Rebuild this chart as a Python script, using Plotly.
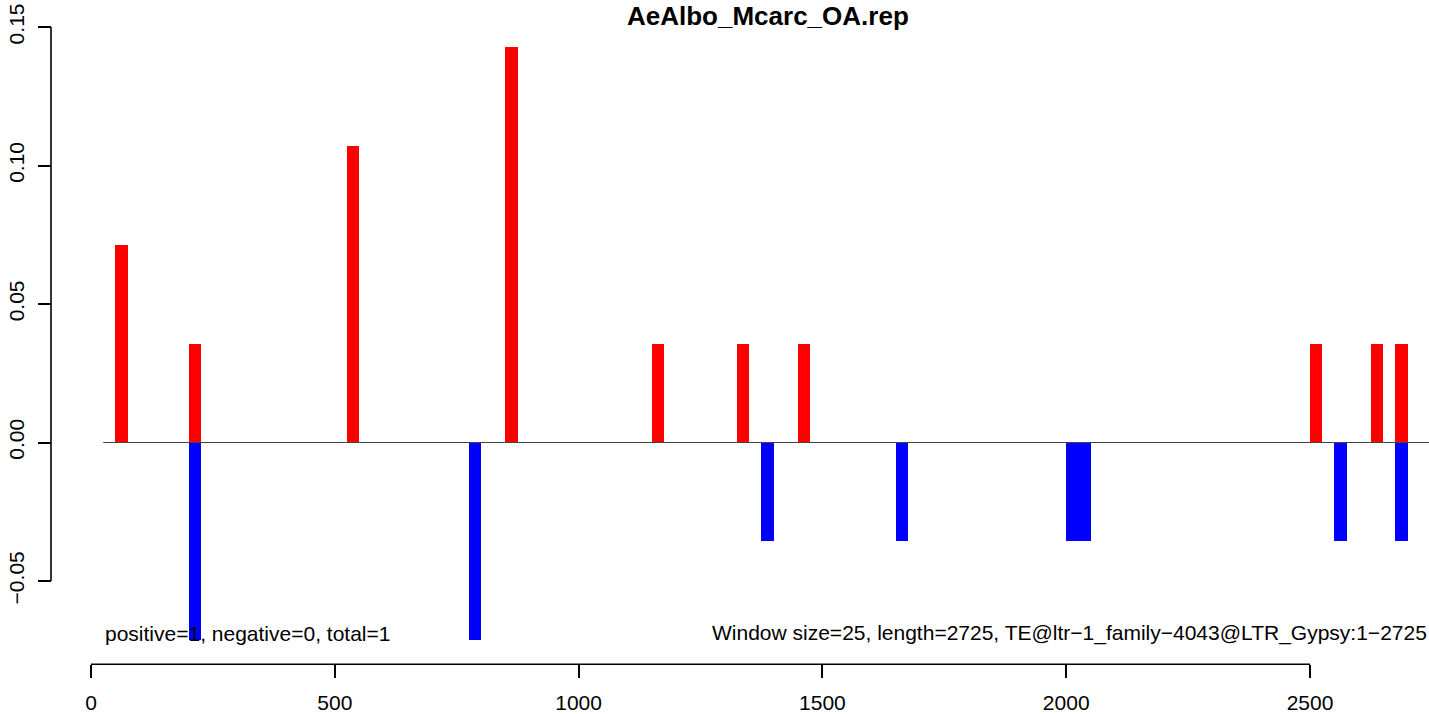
import plotly.graph_objects as go

# ---------------- data ----------------
title_text = "AeAlbo_Mcarc_OA.rep"
window = 25
pos_start = [50, 200, 525, 850, 1150, 1325, 1450, 2500, 2625, 2675]
pos_val = [0.0714, 0.0357, 0.1071, 0.1429, 0.0357, 0.0357, 0.0357, 0.0357, 0.0357, 0.0357]
neg_start = [200, 775, 1375, 1650, 2000, 2025, 2550, 2675]
neg_val = [-0.0714, -0.0714, -0.0357, -0.0357, -0.0357, -0.0357, -0.0357, -0.0357]
x_ticks = [0, 500, 1000, 1500, 2000, 2500]
x_ticktext = ["0", "500", "1000", "1500", "2000", "2500"]
y_ticks = [-0.05, 0.00, 0.05, 0.10, 0.15]
y_ticktext = ["\u22120.05", "0.00", "0.05", "0.10", "0.15"]
left_note = "positive=1, negative=0, total=1"
right_note = "Window size=25, length=2725, TE@ltr\u22121_family\u22124043@LTR_Gypsy:1\u22122725"
zero_line_start = 25

# ---------------- layout geometry ----------------
W, H = 1429, 714
x0_px, x_scale = 91.0, 0.4876      # pixel of x=0, px per unit
y0_px, y_scale = 445.0, 2785.0     # pixel of y=0, px per unit
xr = [-x0_px / x_scale, (W - x0_px) / x_scale]
yr = [-(H - y0_px) / y_scale, y0_px / y_scale]
xaxis_pos = 1 - 668 / H
yaxis_pos = 51 / W

FONT = "Liberation Sans, Arial, Helvetica, sans-serif"
FS = 21

fig = go.Figure()
fig.add_trace(go.Bar(
    x=[s + window / 2 for s in pos_start], y=pos_val, width=window,
    marker=dict(color="#FF0000", line=dict(width=0)), showlegend=False,
    hoverinfo="x+y"))
fig.add_trace(go.Bar(
    x=[s + window / 2 for s in neg_start], y=neg_val, width=window,
    marker=dict(color="#0000FF", line=dict(width=0)), showlegend=False,
    hoverinfo="x+y"))

fig.update_layout(
    width=W, height=H,
    margin=dict(l=0, r=0, t=0, b=0),
    paper_bgcolor="white", plot_bgcolor="white",
    barmode="overlay", bargap=0,
    font=dict(family=FONT, size=FS, color="black"),
    xaxis=dict(range=xr, domain=[0, 1], anchor="free", position=xaxis_pos,
               showgrid=False, zeroline=False, showline=False,
               tickmode="array", tickvals=x_ticks, ticktext=x_ticktext,
               ticks="outside", ticklen=13, tickwidth=1.6, tickcolor="black",
               ticklabelstandoff=7, ticklabeloverflow="allow",
               tickfont=dict(family=FONT, size=FS, color="black"),
               fixedrange=True),
    yaxis=dict(range=yr, domain=[0, 1], anchor="free", position=yaxis_pos,
               showgrid=False, zeroline=False, showline=False,
               tickmode="array", tickvals=y_ticks, ticktext=y_ticktext,
               ticks="outside", ticklen=13, tickwidth=1.6, tickcolor="black",
               tickangle=-90, ticklabelstandoff=6, ticklabeloverflow="allow",
               tickfont=dict(family=FONT, size=FS, color="black"),
               fixedrange=True),
    shapes=[
        dict(type="line", xref="x", yref="paper", x0=x_ticks[0], x1=x_ticks[-1],
             y0=xaxis_pos, y1=xaxis_pos, line=dict(color="black", width=1.6)),
        dict(type="line", xref="paper", yref="y", x0=yaxis_pos, x1=yaxis_pos,
             y0=y_ticks[0], y1=y_ticks[-1], line=dict(color="black", width=1.6)),
        dict(type="line", xref="x", yref="y", x0=zero_line_start, x1=xr[1] + 100,
             y0=0, y1=0, line=dict(color="#444444", width=1)),
    ],
    annotations=[
        dict(text="<b>" + title_text + "</b>", xref="paper", yref="paper",
             x=767.5 / W, y=1.0, xanchor="center", yanchor="top",
             showarrow=False, borderpad=0,
             font=dict(family=FONT, size=26, color="black")),
        dict(text=left_note, xref="x", yref="paper", x=zero_line_start, y=1 - 637 / H,
             xanchor="left", yanchor="middle", showarrow=False,
             font=dict(family=FONT, size=FS, color="black")),
        dict(text=right_note, xref="paper", yref="paper", x=1.0, y=1 - 637 / H,
             xanchor="right", yanchor="middle", showarrow=False,
             font=dict(family=FONT, size=FS, color="black")),
    ],
)

fig.write_html(
    "out.html",
    config={"displayModeBar": False},
    post_script="document.body.style.margin='0';document.body.style.overflow='hidden';",
)
